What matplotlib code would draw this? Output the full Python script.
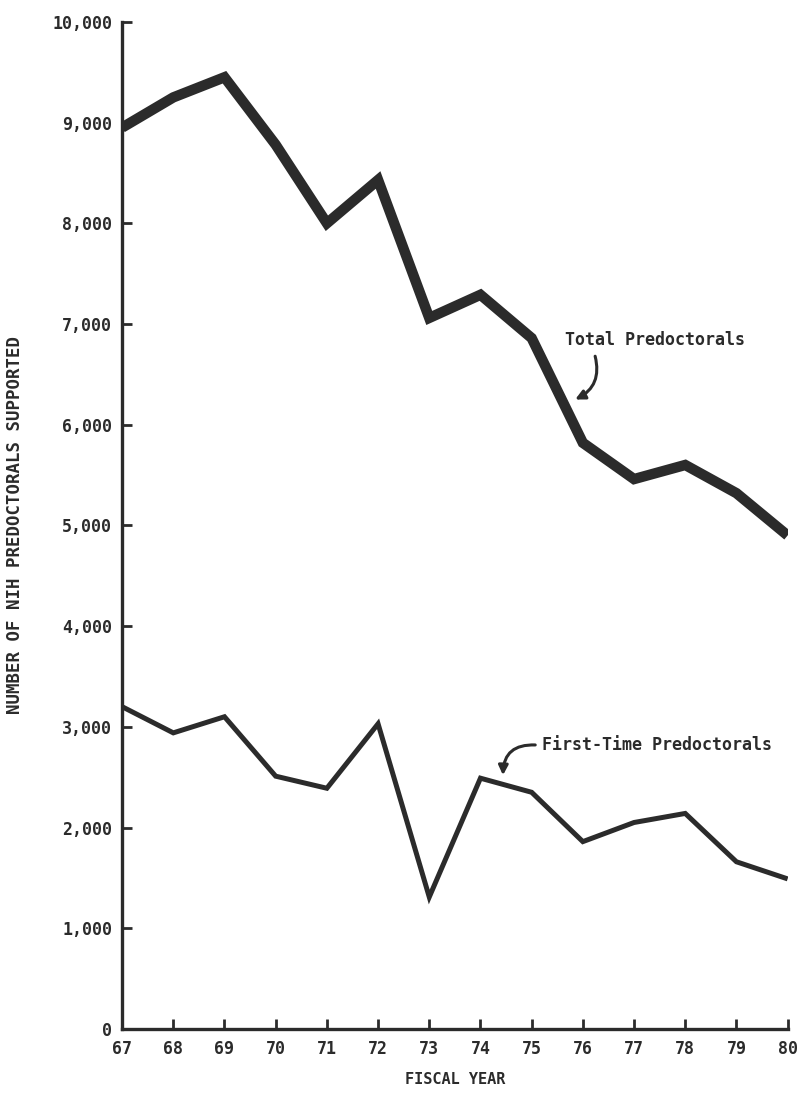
import matplotlib.pyplot as plt
from matplotlib.ticker import FuncFormatter

# fiscal years and values
years = [67, 68, 69, 70, 71, 72, 73, 74, 75, 76, 77, 78, 79, 80]
total = [8950, 9250, 9450, 8780, 8000, 8430, 7060, 7290, 6860, 5820, 5460, 5600, 5320, 4900]
first_time = [3200, 2940, 3100, 2510, 2390, 3030, 1310, 2490, 2350, 1860, 2050, 2140, 1660, 1490]
y_ticks = [0, 1000, 2000, 3000, 4000, 5000, 6000, 7000, 8000, 9000, 10000]

ink = '#2b2b2b'
font = dict(family='DejaVu Sans Mono', weight='bold', color=ink)

fig = plt.figure(figsize=(7.98, 10.93), dpi=100)
ax = fig.add_axes([0.153, 0.0586, 0.834, 0.9214])

ax.plot(years, total, color=ink, lw=7.5, solid_joinstyle='miter', solid_capstyle='butt')
ax.plot(years, first_time, color=ink, lw=3.6, solid_joinstyle='miter', solid_capstyle='butt')

ax.set_xlim(67, 80)
ax.set_ylim(0, 10000)
ax.set_xticks(years)
ax.set_yticks(y_ticks)
ax.yaxis.set_major_formatter(FuncFormatter(lambda v, p: f'{int(v):,}'))

for s in ['top', 'right']:
    ax.spines[s].set_visible(False)
for s in ['left', 'bottom']:
    ax.spines[s].set_linewidth(2.4)
    ax.spines[s].set_color(ink)

ax.tick_params(axis='both', direction='in', length=7, width=2, color=ink, labelsize=12)
ax.tick_params(axis='y', pad=7)
ax.tick_params(axis='x', pad=8)
for lab in ax.get_xticklabels() + ax.get_yticklabels():
    lab.set_fontfamily('DejaVu Sans Mono')
    lab.set_fontweight('bold')
    lab.set_color(ink)

ax.set_xlabel('FISCAL YEAR', fontsize=11, labelpad=10, **font)
ax.set_ylabel('NUMBER OF NIH PREDOCTORALS SUPPORTED', fontsize=12.5, **font)
ax.yaxis.set_label_coords(-0.148, 0.5)

# labels with curved arrows
ax.text(75.65, 6840, 'Total Predoctorals', fontsize=12, ha='left', va='center', **font)
ax.annotate('', xy=(75.85, 6250), xytext=(76.24, 6680),
            arrowprops=dict(arrowstyle='-|>', color=ink, lw=2.2,
                            connectionstyle='arc3,rad=-0.4', mutation_scale=14,
                            shrinkA=0, shrinkB=0))
ax.text(75.2, 2820, 'First-Time Predoctorals', fontsize=12, ha='left', va='center', **font)
ax.annotate('', xy=(74.44, 2520), xytext=(75.07, 2820),
            arrowprops=dict(arrowstyle='-|>', color=ink, lw=2.2,
                            connectionstyle='arc3,rad=0.5', mutation_scale=14,
                            shrinkA=0, shrinkB=0))

plt.savefig('out.png', dpi=100)
